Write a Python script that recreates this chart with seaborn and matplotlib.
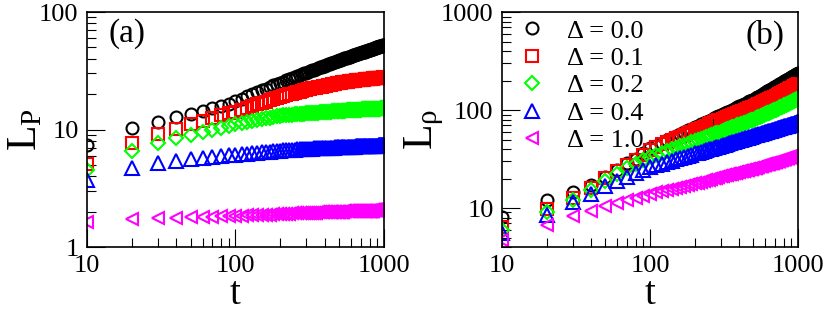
import numpy as np
import pandas as pd
import matplotlib
matplotlib.use("Agg")
import matplotlib.pyplot as plt
import matplotlib.ticker as mticker
import seaborn as sns

# ---- data (one point every 10 time steps) ----
t = [10, 20, 30, 40, 50, 60, 70, 80, 90, 100,
     110, 120, 130, 140, 150, 160, 170, 180, 190, 200,
     210, 220, 230, 240, 250, 260, 270, 280, 290, 300,
     310, 320, 330, 340, 350, 360, 370, 380, 390, 400,
     410, 420, 430, 440, 450, 460, 470, 480, 490, 500,
     510, 520, 530, 540, 550, 560, 570, 580, 590, 600,
     610, 620, 630, 640, 650, 660, 670, 680, 690, 700,
     710, 720, 730, 740, 750, 760, 770, 780, 790, 800,
     810, 820, 830, 840, 850, 860, 870, 880, 890, 900,
     910, 920, 930, 940, 950, 960, 970, 980, 990, 1000]

deltas = ["0.0", "0.1", "0.2", "0.4", "1.0"]

# panel (a): L_P
lp_00 = [7.4, 10.4, 11.7, 12.8, 13.6, 14.4, 15.1, 15.9, 16.6, 17.4,
         18.3, 19.1, 20.0, 20.7, 21.5, 22.3, 23.0, 23.7, 24.3, 25.0,
         25.6, 26.2, 26.75, 27.3, 27.85, 28.4, 28.95, 29.5, 30.0, 30.5,
         31.0, 31.5, 31.95, 32.4, 32.85, 33.3, 33.75, 34.2, 34.6, 35.0,
         35.4, 35.8, 36.3, 36.7, 37.1, 37.5, 37.9, 38.2, 38.6, 39.0,
         39.3, 39.6, 40.0, 40.3, 40.6, 40.9, 41.2, 41.5, 41.8, 42.1,
         42.4, 42.7, 43.0, 43.3, 43.6, 43.9, 44.2, 44.4, 44.7, 45.0,
         45.3, 45.6, 45.8, 46.1, 46.4, 46.7, 46.9, 47.2, 47.4, 47.7,
         47.9, 48.2, 48.4, 48.7, 48.9, 49.2, 49.4, 49.7, 49.9, 50.2,
         50.4, 50.6, 50.9, 51.1, 51.3, 51.5, 51.8, 52.0, 52.3, 52.5]
lp_01 = [5.05, 7.7, 9.1, 10.2, 11.1, 11.9, 12.6, 13.2, 13.7, 14.2,
         14.8, 15.3, 15.9, 16.4, 16.8, 17.3, 17.7, 18.2, 18.6, 19.0,
         19.3, 19.6, 19.9, 20.2, 20.5, 20.8, 21.05, 21.3, 21.55, 21.8,
         22.0, 22.2, 22.35, 22.5, 22.7, 22.9, 23.05, 23.2, 23.35, 23.5,
         23.65, 23.8, 24.0, 24.15, 24.3, 24.45, 24.6, 24.7, 24.85, 25.0,
         25.1, 25.15, 25.25, 25.3, 25.4, 25.5, 25.55, 25.65, 25.7, 25.8,
         25.9, 25.95, 26.05, 26.1, 26.2, 26.25, 26.3, 26.4, 26.45, 26.5,
         26.55, 26.6, 26.65, 26.7, 26.75, 26.8, 26.85, 26.9, 26.95, 27.0,
         27.05, 27.1, 27.1, 27.15, 27.2, 27.25, 27.3, 27.3, 27.35, 27.4,
         27.45, 27.5, 27.5, 27.55, 27.6, 27.65, 27.7, 27.7, 27.75, 27.8]
lp_02 = [4.5, 6.6, 7.7, 8.5, 9.0, 9.6, 10.0, 10.4, 10.8, 11.2,
         11.4, 11.7, 11.9, 12.1, 12.3, 12.5, 12.6, 12.8, 12.95, 13.1,
         13.18, 13.25, 13.32, 13.4, 13.45, 13.5, 13.55, 13.6, 13.65, 13.7,
         13.75, 13.8, 13.85, 13.9, 13.93, 13.95, 13.98, 14.0, 14.05, 14.1,
         14.13, 14.16, 14.19, 14.22, 14.25, 14.28, 14.31, 14.34, 14.37, 14.4,
         14.42, 14.44, 14.46, 14.48, 14.5, 14.52, 14.54, 14.56, 14.58, 14.6,
         14.62, 14.64, 14.66, 14.68, 14.7, 14.72, 14.74, 14.76, 14.78, 14.8,
         14.81, 14.83, 14.84, 14.86, 14.87, 14.88, 14.9, 14.91, 14.92, 14.93,
         14.94, 14.96, 14.97, 14.98, 15.0, 15.01, 15.02, 15.03, 15.04, 15.05,
         15.06, 15.07, 15.08, 15.09, 15.1, 15.11, 15.12, 15.13, 15.14, 15.15]
lp_04 = [3.7, 4.7, 5.15, 5.4, 5.6, 5.75, 5.85, 5.95, 6.05, 6.1,
         6.17, 6.23, 6.29, 6.34, 6.39, 6.44, 6.48, 6.52, 6.56, 6.6,
         6.63, 6.66, 6.69, 6.71, 6.74, 6.76, 6.79, 6.81, 6.83, 6.85,
         6.86, 6.87, 6.89, 6.9, 6.91, 6.92, 6.93, 6.94, 6.95, 6.96,
         6.97, 6.98, 6.99, 7.0, 7.01, 7.02, 7.03, 7.03, 7.04, 7.05,
         7.06, 7.07, 7.07, 7.08, 7.09, 7.1, 7.11, 7.11, 7.12, 7.13,
         7.14, 7.15, 7.15, 7.16, 7.17, 7.18, 7.18, 7.19, 7.19, 7.2,
         7.21, 7.21, 7.22, 7.22, 7.23, 7.24, 7.24, 7.25, 7.25, 7.26,
         7.26, 7.27, 7.27, 7.28, 7.28, 7.29, 7.29, 7.3, 7.3, 7.31,
         7.31, 7.32, 7.32, 7.33, 7.33, 7.33, 7.34, 7.34, 7.35, 7.35]
lp_10 = [1.64, 1.73, 1.76, 1.78, 1.79, 1.80, 1.81, 1.82, 1.83, 1.84,
         1.85, 1.86, 1.87, 1.87, 1.88, 1.89, 1.89, 1.90, 1.90, 1.91,
         1.915, 1.92, 1.925, 1.93, 1.935, 1.94, 1.94, 1.94, 1.945, 1.95,
         1.955, 1.96, 1.96, 1.96, 1.965, 1.97, 1.97, 1.97, 1.975, 1.98,
         1.98, 1.985, 1.985, 1.99, 1.99, 1.99, 1.995, 1.995, 2.0, 2.0,
         2.0, 2.005, 2.005, 2.01, 2.01, 2.01, 2.015, 2.015, 2.02, 2.02,
         2.02, 2.02, 2.02, 2.025, 2.025, 2.025, 2.03, 2.03, 2.03, 2.03,
         2.03, 2.035, 2.035, 2.035, 2.04, 2.04, 2.04, 2.04, 2.04, 2.04,
         2.045, 2.045, 2.045, 2.045, 2.05, 2.05, 2.05, 2.05, 2.05, 2.05,
         2.05, 2.055, 2.055, 2.055, 2.055, 2.06, 2.06, 2.06, 2.06, 2.06]

# panel (b): L_rho
lr_00 = [8.1, 12.1, 14.4, 17.3, 20.7, 24.7, 28.5, 32.0, 36.0, 40.5,
         43.4, 46.2, 49.0, 51.7, 54.4, 57.0, 59.5, 62.1, 64.5, 67.0,
         69.2, 71.4, 73.55, 75.7, 77.8, 79.9, 81.95, 84.0, 86.0, 88.0,
         90.15, 92.3, 94.4, 96.5, 98.55, 100.6, 102.65, 104.7, 106.7, 108.7,
         110.7, 112.6, 114.6, 116.5, 118.5, 120.4, 122.3, 124.2, 126.1, 128.0,
         130.2, 132.5, 134.7, 137.0, 139.2, 141.4, 143.6, 145.8, 148.0, 150.2,
         152.4, 154.6, 156.8, 159.0, 161.2, 163.4, 165.5, 167.7, 169.8, 172.0,
         174.2, 176.4, 178.7, 180.9, 183.1, 185.3, 187.5, 189.8, 192.0, 194.2,
         196.4, 198.6, 200.9, 203.1, 205.3, 207.5, 209.7, 211.8, 214.0, 216.2,
         218.4, 220.6, 222.7, 224.9, 227.1, 229.3, 231.5, 233.6, 235.8, 238.0]
lr_01 = [6.45, 9.75, 12.6, 16.0, 20.3, 23.7, 27.5, 31.2, 35.0, 39.5,
         42.0, 44.5, 46.8, 49.2, 51.4, 53.6, 55.8, 57.9, 60.0, 62.0,
         63.9, 65.8, 67.65, 69.5, 71.3, 73.1, 74.85, 76.6, 78.3, 80.0,
         81.55, 83.1, 84.6, 86.1, 87.6, 89.1, 90.5, 91.9, 93.3, 94.7,
         96.1, 97.4, 98.8, 100.1, 101.5, 102.8, 104.1, 105.4, 106.7, 108.0,
         109.5, 111.0, 112.5, 114.0, 115.5, 117.0, 118.4, 119.9, 121.3, 122.8,
         124.2, 125.7, 127.1, 128.6, 130.0, 131.4, 132.8, 134.2, 135.6, 137.0,
         138.6, 140.2, 141.7, 143.3, 144.9, 146.5, 148.0, 149.6, 151.1, 152.7,
         154.2, 155.8, 157.3, 158.9, 160.4, 161.9, 163.4, 165.0, 166.5, 168.0,
         169.5, 171.0, 172.5, 174.0, 175.5, 177.0, 178.5, 180.0, 181.5, 183.0]
lr_02 = [5.9, 9.2, 12.1, 15.4, 18.7, 22.4, 25.5, 28.3, 30.8, 33.2,
         34.9, 36.6, 38.2, 39.7, 41.2, 42.6, 44.0, 45.4, 46.7, 48.0,
         49.3, 50.6, 51.85, 53.1, 54.3, 55.5, 56.65, 57.8, 58.9, 60.0,
         61.1, 62.2, 63.3, 64.4, 65.45, 66.5, 67.5, 68.5, 69.55, 70.6,
         71.6, 72.5, 73.5, 74.4, 75.4, 76.3, 77.2, 78.2, 79.1, 80.0,
         81.0, 82.1, 83.1, 84.2, 85.2, 86.2, 87.2, 88.3, 89.3, 90.3,
         91.3, 92.3, 93.2, 94.2, 95.2, 96.2, 97.1, 98.1, 99.0, 100.0,
         101.0, 102.1, 103.1, 104.2, 105.2, 106.2, 107.2, 108.3, 109.3, 110.3,
         111.3, 112.3, 113.4, 114.4, 115.4, 116.4, 117.4, 118.3, 119.3, 120.3,
         121.3, 122.3, 123.2, 124.2, 125.2, 126.2, 127.1, 128.1, 129.0, 130.0]
lr_04 = [5.6, 8.5, 11.5, 13.9, 16.6, 18.7, 20.8, 22.8, 24.5, 26.0,
         27.2, 28.3, 29.4, 30.4, 31.5, 32.4, 33.4, 34.3, 35.1, 36.0,
         36.75, 37.5, 38.25, 39.0, 39.7, 40.4, 41.05, 41.7, 42.35, 43.0,
         43.65, 44.3, 44.95, 45.6, 46.2, 46.8, 47.4, 48.0, 48.55, 49.1,
         49.7, 50.2, 50.8, 51.3, 51.9, 52.4, 52.9, 53.5, 54.0, 54.5,
         55.0, 55.5, 55.9, 56.4, 56.9, 57.4, 57.8, 58.3, 58.7, 59.2,
         59.6, 60.1, 60.5, 61.0, 61.4, 61.8, 62.2, 62.7, 63.1, 63.5,
         63.9, 64.3, 64.8, 65.2, 65.6, 66.0, 66.4, 66.8, 67.2, 67.6,
         68.0, 68.4, 68.7, 69.1, 69.5, 69.9, 70.3, 70.6, 71.0, 71.4,
         71.8, 72.1, 72.5, 72.8, 73.2, 73.6, 73.9, 74.3, 74.6, 75.0]
lr_10 = [4.72, 6.7, 8.2, 9.3, 10.4, 11.2, 12.0, 12.7, 13.4, 14.0,
         14.5, 14.9, 15.3, 15.7, 16.1, 16.5, 16.8, 17.2, 17.5, 17.8,
         18.15, 18.5, 18.85, 19.2, 19.5, 19.8, 20.1, 20.4, 20.7, 21.0,
         21.25, 21.5, 21.75, 22.0, 22.25, 22.5, 22.75, 23.0, 23.2, 23.4,
         23.6, 23.8, 24.1, 24.3, 24.5, 24.7, 24.9, 25.1, 25.3, 25.5,
         25.7, 25.9, 26.2, 26.4, 26.6, 26.8, 27.0, 27.2, 27.4, 27.6,
         27.8, 28.0, 28.2, 28.4, 28.6, 28.8, 29.0, 29.1, 29.3, 29.5,
         29.7, 29.9, 30.1, 30.3, 30.5, 30.7, 30.9, 31.1, 31.3, 31.5,
         31.7, 31.9, 32.1, 32.3, 32.5, 32.7, 32.9, 33.0, 33.2, 33.4,
         33.6, 33.8, 33.9, 34.1, 34.3, 34.5, 34.7, 34.8, 35.0, 35.2]

# ---- styling ----
colors = ["black", "#ff0000", "#00ff00", "#0000ff", "#ff00ff"]
markers = ["o", "s", "D", "^", "<"]
msizes = [8.6, 8.0, 7.0, 9.5, 9.0]

sns.set_style("ticks", rc={"axes.edgecolor": "black", "xtick.color": "black",
                           "ytick.color": "black", "text.color": "black",
                           "axes.labelcolor": "black"})
plt.rcParams["font.family"] = ["Liberation Serif", "DejaVu Serif"]
plt.rcParams["mathtext.fontset"] = "custom"
plt.rcParams["mathtext.rm"] = "Liberation Serif"

fig = plt.figure(figsize=(8.3, 3.1), dpi=100)
ax1 = fig.add_axes([0.1048, 0.2032, 0.3578, 0.758])
ax2 = fig.add_axes([0.6048, 0.2032, 0.3566, 0.758])

panel_a = [lp_00, lp_01, lp_02, lp_04, lp_10]
panel_b = [lr_00, lr_01, lr_02, lr_04, lr_10]

for ax, series in [(ax1, panel_a), (ax2, panel_b)]:
    ax.set_xscale("log")
    ax.set_yscale("log")
    for d, y, c, m, ms in zip(deltas, series, colors, markers, msizes):
        df = pd.DataFrame({"t": t, "L": y})
        sns.lineplot(data=df, x="t", y="L", ax=ax, color=c, marker=m,
                     linestyle="", markersize=ms, markerfacecolor="none",
                     markeredgecolor=c, markeredgewidth=1.5,
                     label="\u0394 = " + d, legend=False)

ax1.set_ylim(1, 100)
ax2.set_ylim(4, 1000)

fmt = mticker.FuncFormatter(lambda v, p: f"{v:g}")
for ax in (ax1, ax2):
    ax.set_xlim(10, 1000)
    ax.xaxis.set_major_formatter(fmt)
    ax.yaxis.set_major_formatter(fmt)
    ax.xaxis.set_minor_formatter(mticker.NullFormatter())
    ax.yaxis.set_minor_formatter(mticker.NullFormatter())
    ax.tick_params(which="both", direction="in", top=False, right=False,
                   labelsize=19, width=0.8, pad=6)
    ax.tick_params(which="major", length=13)
    ax.tick_params(which="minor", length=6.5)
    for s in ax.spines.values():
        s.set_linewidth(1.2)
    ax.set_xlabel("t", fontsize=28, labelpad=-1)

ax1.set_ylabel(r"$\mathregular{L_P}$", fontsize=30)
ax2.set_ylabel(r"$\mathregular{L_\rho}$", fontsize=30)
ax1.yaxis.set_label_coords(-0.14, 0.5)
ax2.yaxis.set_label_coords(-0.19, 0.5)

ax1.text(0.135, 0.91, "(a)", transform=ax1.transAxes, fontsize=24,
         ha="center", va="center")
ax2.text(0.889, 0.90, "(b)", transform=ax2.transAxes, fontsize=24,
         ha="center", va="center")

ax2.legend(loc="upper left", bbox_to_anchor=(0.065, 0.97), frameon=False,
           fontsize=19, handlelength=0.8, handletextpad=0.95,
           labelspacing=0.15, borderpad=0, borderaxespad=0)

fig.savefig("out.png", dpi=100)
